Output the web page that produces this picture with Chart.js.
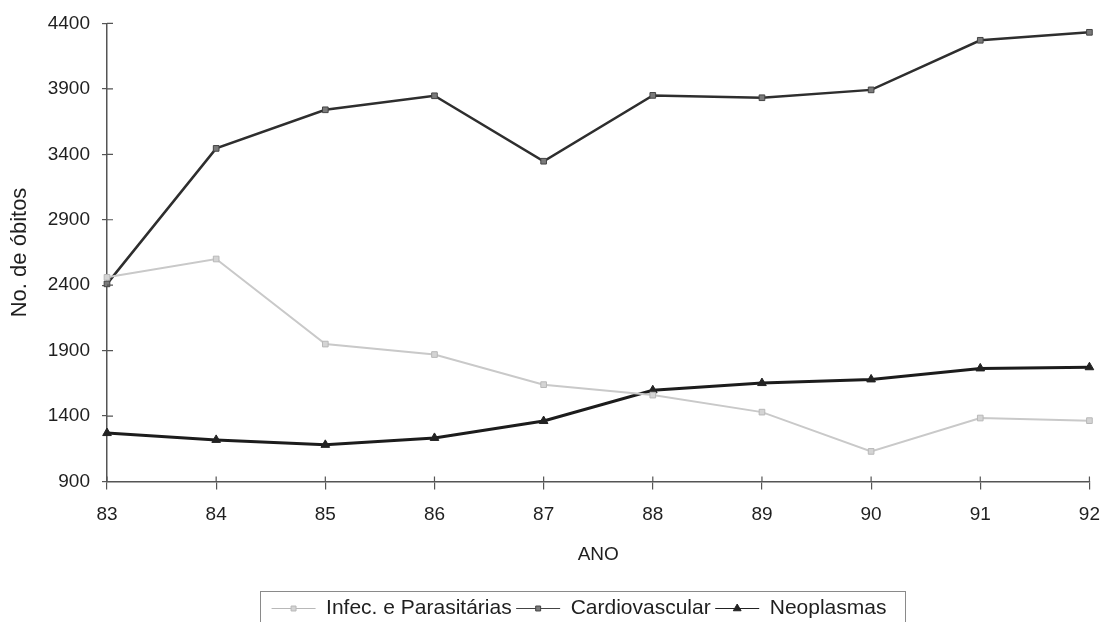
<!DOCTYPE html>
<html>
<head>
<meta charset="utf-8">
<script src="https://cdn.jsdelivr.net/npm/chart.js@4"></script>
<style>
  html, body { margin: 0; padding: 0; background: #fff; }
  #wrap { width: 1114px; height: 622px; }
</style>
</head>
<body>
<div id="wrap"><canvas id="obitos"></canvas></div>
<script>
let anos = ["83", "84", "85", "86", "87", "88", "89", "90", "91", "92"];
let infec = [2460, 2600, 1950, 1870, 1640, 1560, 1430, 1130, 1385, 1365];
let cardio = [2410, 3445, 3740, 3847, 3347, 3850, 3832, 3892, 4271, 4332];
let neo = [1270, 1218, 1180, 1233, 1362, 1597, 1652, 1680, 1764, 1773];
let yTicks = [900, 1400, 1900, 2400, 2900, 3400, 3900, 4400];

let fontFam = "'Liberation Sans', Arial, sans-serif";
let txtColor = "#1f1f1f";
let axisColor = "#555";
let legendLine = 44;

// legend: line + marker in the middle, a frame around it; inner tick marks
let legendPlugin = {
  id: "legendMarks",
  afterLayout(chart) {
    const lg = chart.legend;
    lg.left += 34; lg.right += 34;
    lg.top += 7; lg.bottom += 7;
  },
  afterDraw(chart) {
    const ctx = chart.ctx;
    const boxes = chart.legend.legendHitBoxes;
    if (!boxes || !boxes.length) return;
    ctx.save();
    chart.data.datasets.forEach(function(ds, i) {
      const hb = boxes[i];
      ctx.fillStyle = ds.pointBackgroundColor;
      ctx.strokeStyle = ds.pointBorderColor;
      Chart.helpers.drawPoint(ctx, {
        pointStyle: ds.pointStyle, radius: ds.pointRadius - 0.5, rotation: 0,
        borderWidth: 1
      }, hb.left + legendLine / 2, hb.top + hb.height / 2);
    });
    const first = boxes[0], last = boxes[boxes.length - 1];
    const midY = first.top + first.height / 2;
    ctx.strokeStyle = "#8a8a8a";
    ctx.lineWidth = 1;
    ctx.strokeRect(Math.round(first.left - 12) + 0.5, Math.round(midY - 18) + 0.5,
      Math.round(last.left + last.width - first.left + 30), 60);

    const xs = chart.scales.x, ys = chart.scales.y, ca = chart.chartArea;
    ctx.strokeStyle = axisColor;
    ctx.lineWidth = 1.2;
    ctx.beginPath();
    xs.ticks.forEach(function(t, i) {
      const px = xs.getPixelForTick(i);
      ctx.moveTo(px, ca.bottom - 5);
      ctx.lineTo(px, ca.bottom);
    });
    ys.ticks.forEach(function(t, i) {
      const py = ys.getPixelForTick(i);
      ctx.moveTo(ca.left, py);
      ctx.lineTo(ca.left + 6, py);
    });
    ctx.stroke();
    ctx.restore();
  }
};

new Chart(document.getElementById("obitos"), {
  type: "line",
  data: {
    labels: anos,
    datasets: [
      {
        label: "Infec. e Parasitárias",
        data: infec,
        borderColor: "#c9c9c9",
        borderWidth: 2,
        pointStyle: "rect",
        pointRadius: 4,
        pointBackgroundColor: "#d4d4d4",
        pointBorderColor: "#b8b8b8",
        pointBorderWidth: 1
      },
      {
        label: "Cardiovascular",
        data: cardio,
        borderColor: "#2e2e2e",
        borderWidth: 2.5,
        pointStyle: "rect",
        pointRadius: 4,
        pointBackgroundColor: "#7a7a7a",
        pointBorderColor: "#444",
        pointBorderWidth: 1
      },
      {
        label: "Neoplasmas",
        data: neo,
        borderColor: "#1c1c1c",
        borderWidth: 3,
        pointStyle: "triangle",
        pointRadius: 5,
        pointBackgroundColor: "#222",
        pointBorderColor: "#222",
        pointBorderWidth: 1
      }
    ]
  },
  options: {
    responsive: true,
    maintainAspectRatio: false,
    animation: false,
    layout: { padding: { left: 0, right: 24, top: 20, bottom: 0 } },
    plugins: {
      tooltip: { enabled: false },
      legend: {
        position: "bottom",
        labels: {
          usePointStyle: true,
          pointStyle: "line",
          pointStyleWidth: legendLine,
          padding: 4.5,
          color: txtColor,
          font: { family: fontFam, size: 21 }
        }
      }
    },
    scales: {
      x: {
        type: "category",
        offset: false,
        grid: { display: true, drawOnChartArea: false, drawTicks: true, tickLength: 8, color: axisColor, lineWidth: 1.2 },
        border: { color: axisColor, width: 1.5 },
        ticks: { color: txtColor, padding: 14, maxRotation: 0, font: { family: fontFam, size: 19 } },
        title: { display: true, text: "ANO", color: txtColor, padding: { top: 0, bottom: 20 }, font: { family: fontFam, size: 19 } },
        afterFit(scale) { scale.height = 105; }
      },
      y: {
        min: 900,
        max: 4400,
        afterBuildTicks(scale) { scale.ticks = yTicks.map(function(v) { return { value: v }; }); },
        grid: { display: true, drawOnChartArea: false, drawTicks: true, tickLength: 5, color: axisColor, lineWidth: 1.2 },
        border: { color: axisColor, width: 1.5 },
        ticks: {
          color: txtColor, padding: 12, font: { family: fontFam, size: 19 },
          callback: function(v) { return String(v); }
        },
        title: { display: true, text: "No. de óbitos", color: txtColor, padding: { top: 7, bottom: 0 }, font: { family: fontFam, size: 22 } },
        afterFit(scale) { scale.width = 107; }
      }
    }
  },
  plugins: [legendPlugin]
});
</script>
</body>
</html>
